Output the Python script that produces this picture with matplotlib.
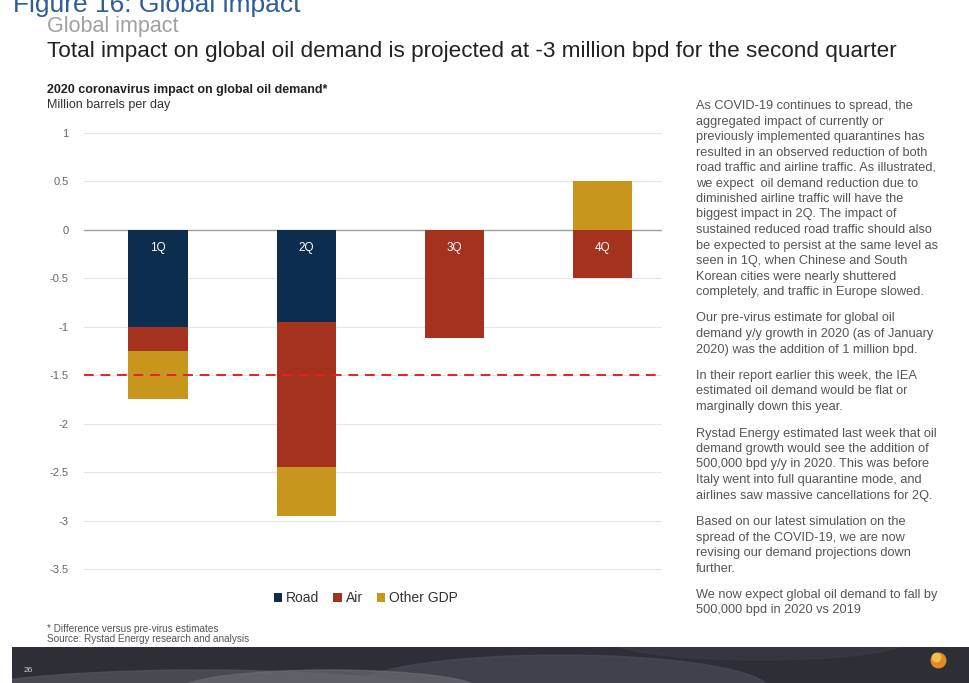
import matplotlib
matplotlib.use("Agg")
import matplotlib.pyplot as plt
from matplotlib.patches import Rectangle, Ellipse

plt.rcParams['font.family'] = ['Liberation Sans', 'DejaVu Sans']

############# Data ##################
quarters = ['1Q', '2Q', '3Q', '4Q']
road = [-1.0, -0.95, 0.0, 0.0]
air = [-0.25, -1.5, -1.12, -0.5]
other_gdp = [-0.5, -0.5, 0.0, 0.5]
guide_level = -1.5
y_ticks = [1, 0.5, 0, -0.5, -1, -1.5, -2, -2.5, -3, -3.5]
y_tick_labels = ['1', '0.5', '0', '-0.5', '-1', '-1.5', '-2', '-2.5', '-3', '-3.5']

notes = [
    ["As COVID-19 continues to spread, the",
     "aggregated impact of currently or",
     "previously implemented quarantines has",
     "resulted in an observed reduction of both",
     "road traffic and airline traffic. As illustrated,",
     "we expect  oil demand reduction due to",
     "diminished airline traffic will have the",
     "biggest impact in 2Q. The impact of",
     "sustained reduced road traffic should also",
     "be expected to persist at the same level as",
     "seen in 1Q, when Chinese and South",
     "Korean cities were nearly shuttered",
     "completely, and traffic in Europe slowed."],
    ["Our pre-virus estimate for global oil",
     "demand y/y growth in 2020 (as of January",
     "2020) was the addition of 1 million bpd."],
    ["In their report earlier this week, the IEA",
     "estimated oil demand would be flat or",
     "marginally down this year."],
    ["Rystad Energy estimated last week that oil",
     "demand growth would see the addition of",
     "500,000 bpd y/y in 2020. This was before",
     "Italy went into full quarantine mode, and",
     "airlines saw massive cancellations for 2Q."],
    ["Based on our latest simulation on the",
     "spread of the COVID-19, we are now",
     "revising our demand projections down",
     "further."],
    ["We now expect global oil demand to fall by",
     "500,000 bpd in 2020 vs 2019"],
]

road_col = '#0c2d4e'
air_col = '#a5321f'
other_col = '#c8961c'

W, H = 969, 683
fig = plt.figure(figsize=(W / 100, H / 100), dpi=100)


def fx(px):
    return px / W


def fy(py):
    return 1 - py / H


# headings
fig.text(fx(13), fy(12), 'Figure 16: Global impact', fontsize=19, color='#2e5d9c', va='baseline')
fig.text(fx(47), fy(32), 'Global impact', fontsize=15.5, color='#a0a0a0', va='baseline')
fig.text(fx(47), fy(57), 'Total impact on global oil demand is projected at -3 million bpd for the second quarter',
         fontsize=16.2, color='#222222', va='baseline')
fig.text(fx(47), fy(93), '2020 coronavirus impact on global oil demand*', fontsize=9,
         fontweight='bold', color='#222222', va='baseline')
fig.text(fx(47), fy(108), 'Million barrels per day', fontsize=9, color='#333333', va='baseline')

# chart
ppu = 97.3
top_px = 133 - 0.1 * ppu
bot_px = 569 + 0.1 * ppu
ax = fig.add_axes([fx(84), fy(bot_px), fx(662) - fx(84), (bot_px - top_px) / H])
x = list(range(len(quarters)))
air_bottom = list(road)
other_bottom = [r + a if o < 0 else 0 for r, a, o in zip(road, air, other_gdp)]
ax.bar(x, road, width=0.4, color=road_col, label='Road', zorder=3)
ax.bar(x, air, width=0.4, bottom=air_bottom, color=air_col, label='Air', zorder=3)
ax.bar(x, other_gdp, width=0.4, bottom=other_bottom, color=other_col, label='Other GDP', zorder=3)

for xi, q in zip(x, quarters):
    ax.annotate(q, (xi, 0), xytext=(0, -18), textcoords='offset pixels', ha='center', va='center',
                color='white', fontsize=8.5, zorder=4)

ax.axhline(guide_level, color='#e3231f', linestyle=(0, (5, 3.5)), linewidth=1.4, zorder=5)
ax.axhline(0, color='#a0a0a0', linewidth=1.0, zorder=2)

ax.set_xlim(-0.5, 3.4)
ax.set_ylim(-3.6, 1.1)
ax.set_yticks(y_ticks)
ax.set_yticklabels(y_tick_labels)
ax.set_xticks([])
ax.tick_params(axis='y', length=0, pad=11, labelsize=8, labelcolor='#666666')
for lab in ax.get_yticklabels():
    lab.set_horizontalalignment('right')
ax.grid(axis='y', color='#e6e6e6', linewidth=0.8, zorder=0)
for s in ax.spines.values():
    s.set_visible(False)

leg = ax.legend(loc='center', bbox_to_anchor=((366 - 84) / (662 - 84), (bot_px - 598) / (bot_px - top_px)),
                ncol=3, frameon=False, fontsize=10, handlelength=0.6, handleheight=0.6,
                handletextpad=0.3, columnspacing=1.0)
for t in leg.get_texts():
    t.set_color('#333333')

# footnotes
fig.text(fx(47), fy(632), '* Difference versus pre-virus estimates', fontsize=7.2, color='#555555', va='baseline')
fig.text(fx(47), fy(642), 'Source: Rystad Energy research and analysis', fontsize=7.2, color='#555555', va='baseline')

# commentary on the right
y = 106
for para in notes:
    for line in para:
        fig.text(fx(696), fy(y), line, fontsize=9.2, color='#555555', va='center')
        y += 15.5
    y += 11

# bottom band
band = fig.add_axes([fx(12), 0, 1 - fx(12), (H - 647) / H])
band.set_xlim(12, W)
band.set_ylim(683, 647)
band.axis('off')
bg = Rectangle((12, 647), W - 12, 36, color='#2e2e37', zorder=1)
band.add_patch(bg)
for (cx, cy, w, h, c) in [(200, 700, 520, 60, '#55555e'), (560, 690, 420, 70, '#4a4a54'),
                          (760, 640, 300, 40, '#3a3a44'), (330, 690, 300, 40, '#6a6a72')]:
    e = Ellipse((cx, cy), w, h, color=c, alpha=0.7, zorder=2)
    band.add_patch(e)
    e.set_clip_path(bg)
band.text(28, 670, '26', color='#d0d0d0', fontsize=6, ha='center', va='center', zorder=3)
band.scatter([938], [660], s=110, color='#e08a2a', zorder=3)
band.scatter([936], [657], s=35, color='#f5c04a', zorder=4)

fig.savefig('out.png', dpi=100)
